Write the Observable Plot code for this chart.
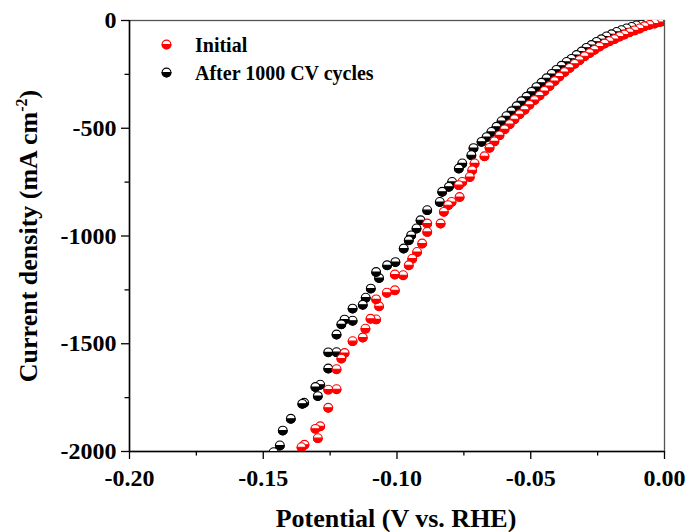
<!DOCTYPE html>
<html><head><meta charset="utf-8">
<script src="https://cdn.jsdelivr.net/npm/d3@7"></script>
<script src="https://cdn.jsdelivr.net/npm/@observablehq/plot@0.6"></script>
<style>
body{margin:0;background:#fff;}
#wrap{position:relative;width:689px;height:532px;font-family:"Liberation Serif","Times New Roman",serif;}
#wrap svg{display:block;}
.lg-mark{position:absolute;width:11px;height:11px;}
.lg-text{position:absolute;font-size:20px;line-height:20px;font-weight:bold;white-space:nowrap;color:#000;}
</style></head><body><div id="wrap"></div>
<script>
// Series: Initial (red)
const potentialInitial = [0,-0.0019,-0.0037,-0.0056,-0.0075,-0.0093,-0.0112,-0.0131,-0.0150,-0.0168,
 -0.0187,-0.0206,-0.0224,-0.0243,-0.0262,-0.0280,-0.0299,-0.0318,-0.0336,-0.0355,
 -0.0374,-0.0393,-0.0411,-0.0430,-0.0449,-0.0467,-0.0486,-0.0505,-0.0523,-0.0542,
 -0.0561,-0.0579,-0.0598,-0.0617,-0.0636,-0.0654,-0.0673,
 -0.0710,-0.0719,-0.0728,-0.0756,-0.0769,-0.0766,-0.0796,-0.0809,-0.0825,-0.0837,
 -0.0887,-0.0887,-0.0906,-0.0925,-0.0943,-0.0956,-0.0977,-0.1008,-0.1008,-0.1038,
 -0.1067,-0.1078,-0.1078,-0.1099,-0.1118,-0.1128,-0.1166,-0.1196,-0.1208,-0.1226,
 -0.1226,-0.1257,-0.1257,-0.1287,-0.1305,-0.1296,-0.1346,-0.1357];
const currentInitial = [-2,-7,-14,-20,-27,-37,-46,-55,-65,-74,
 -86,-96,-107,-121,-136,-151,-166,-184,-201,-220,
 -239,-260,-281,-304,-327,-348,-369,-391,-414,-435,
 -458,-481,-505,-533,-561,-591,-630,
 -663,-695,-726,-749,-764,-819,-842,-857,-888,-942,
 -942,-981,-1035,-1074,-1105,-1136,-1182,-1179,-1252,-1263,
 -1326,-1294,-1387,-1384,-1430,-1471,-1488,-1543,-1569,-1618,
 -1711,-1713,-1797,-1883,-1895,-1938,-1969,-1980];
// Series: After 1000 CV cycles (black)
const potentialCycled = [-0.0011,-0.0030,-0.0049,-0.0067,-0.0086,-0.0105,-0.0123,-0.0142,-0.0161,-0.0179,
 -0.0198,-0.0217,-0.0236,-0.0254,-0.0273,-0.0292,-0.0310,-0.0329,-0.0348,-0.0366,
 -0.0385,-0.0404,-0.0422,-0.0441,-0.0460,-0.0479,-0.0497,-0.0516,-0.0535,-0.0553,
 -0.0572,-0.0591,-0.0609,-0.0628,-0.0647,-0.0665,-0.0684,-0.0714,-0.0722,
 -0.0756,-0.0769,-0.0794,-0.0806,-0.0831,-0.0840,-0.0887,-0.0912,-0.0927,-0.0947,
 -0.0956,-0.0975,-0.1006,-0.1037,-0.1067,-0.1078,-0.1098,-0.1117,-0.1128,-0.1166,
 -0.1166,-0.1196,-0.1208,-0.1226,-0.1226,-0.1257,-0.1257,-0.1287,-0.1305,-0.1296,
 -0.1347,-0.1354,-0.1397,-0.1427,-0.1438,-0.1461];
const currentCycled = [-4,-7,-11,-14,-19,-23,-30,-37,-45,-53,
 -64,-74,-87,-99,-114,-127,-144,-160,-178,-192,
 -210,-229,-248,-268,-289,-309,-331,-354,-375,-398,
 -421,-444,-467,-493,-517,-541,-563,-592,-625,
 -663,-687,-749,-772,-795,-842,-880,-927,-965,-997,
 -1020,-1058,-1121,-1136,-1195,-1167,-1244,-1286,-1319,-1337,
 -1393,-1388,-1410,-1457,-1539,-1540,-1615,-1690,-1701,-1743,
 -1774,-1779,-1848,-1903,-1972,-2003];

const seriesNames = ["Initial", "After 1000 CV cycles"];
const seriesColors = ["#ff0000", "#000000"];
const xTicks = [-0.20, -0.15, -0.10, -0.05, 0.00];
const xMinorTicks = [-0.175, -0.125, -0.075, -0.025];
const yTicks = [0, -500, -1000, -1500, -2000];
const yMinorTicks = [-250, -750, -1250, -1750];
const xLabel = "Potential (V vs. RHE)";
const yLabelMain = "Current density (mA cm";
const yLabelSup = "-2";
const yLabelEnd = ")";

function markerURI(color) {
  const s = `<svg xmlns="http://www.w3.org/2000/svg" width="11" height="11" viewBox="-5.5 -5.5 11 11"><circle r="4.4" fill="#fff" stroke="${color}" stroke-width="1.1"/><path d="M-4.4,0A4.4,4.4 0 0 0 4.4,0Z" fill="${color}" stroke="${color}" stroke-width="1.1"/></svg>`;
  return "data:image/svg+xml;charset=utf-8," + encodeURIComponent(s);
}

const initial = potentialInitial.map((v, i) => ({v, j: currentInitial[i]}));
const cycled = potentialCycled.map((v, i) => ({v, j: currentCycled[i]}));
const uriInitial = markerURI(seriesColors[0]);
const uriCycled = markerURI(seriesColors[1]);

const tickFont = {fontSize: 24, fontWeight: "bold", fontFamily: "Liberation Serif"};

const plot = Plot.plot({
  width: 689, height: 532,
  marginLeft: 129, marginRight: 25, marginTop: 20, marginBottom: 81,
  x: {domain: [-0.2, 0]},
  y: {domain: [-2000, 0]},
  style: {fontFamily: "Liberation Serif", background: "#fff", color: "#000", overflow: "visible"},
  marks: [
    Plot.frame({stroke: "#555", strokeWidth: 1.3}),
    Plot.axisX(xMinorTicks, {tickSize: 4.5, text: null, label: null, strokeWidth: 1.3}),
    Plot.axisX(xTicks, {tickSize: 8, tickPadding: 9, tickFormat: d => d.toFixed(2), label: null, strokeWidth: 1.3, ...tickFont}),
    Plot.axisY(yMinorTicks, {tickSize: 4.5, text: null, label: null, strokeWidth: 1.3}),
    Plot.axisY(yTicks, {tickSize: 8, tickPadding: 5, tickFormat: d => String(d), label: null, strokeWidth: 1.3, ...tickFont}),
    Plot.ruleX([-0.2], {stroke: "#000", strokeWidth: 1.5}),
    Plot.ruleY([-2000], {stroke: "#000", strokeWidth: 1.5}),
    Plot.image(cycled, {x: "v", y: "j", src: () => uriCycled, width: 11, height: 11, clip: true}),
    Plot.image(initial, {x: "v", y: "j", src: () => uriInitial, width: 11, height: 11, clip: true})
  ]
});

const wrap = document.getElementById("wrap");
wrap.appendChild(plot);

const svg = d3.select(plot);
svg.append("text")
  .attr("x", 396).attr("y", 527)
  .attr("text-anchor", "middle")
  .style("font", "bold 26px 'Liberation Serif'")
  .attr("fill", "#000")
  .text(xLabel);
const yl = svg.append("text")
  .attr("transform", "translate(37,236) rotate(-90)")
  .attr("text-anchor", "middle")
  .style("font", "bold 26px 'Liberation Serif'")
  .attr("fill", "#000");
yl.append("tspan").text(yLabelMain);
yl.append("tspan").attr("dy", -10).style("font-size", "16px").text(yLabelSup);
yl.append("tspan").attr("dy", 10).text(yLabelEnd);

// Legend
const legendRows = [
  {name: seriesNames[0], uri: uriInitial, cy: 44, base: 51.7},
  {name: seriesNames[1], uri: uriCycled, cy: 72.3, base: 79.3}
];
legendRows.forEach(r => {
  const m = document.createElement("img");
  m.className = "lg-mark"; m.src = r.uri;
  m.style.left = (166 - 5.5) + "px"; m.style.top = (r.cy - 5.5) + "px";
  wrap.appendChild(m);
  const t = document.createElement("div");
  t.className = "lg-text"; t.textContent = r.name;
  t.style.left = "195px"; t.style.top = (r.base - 16.8) + "px";
  wrap.appendChild(t);
});
</script></body></html>
